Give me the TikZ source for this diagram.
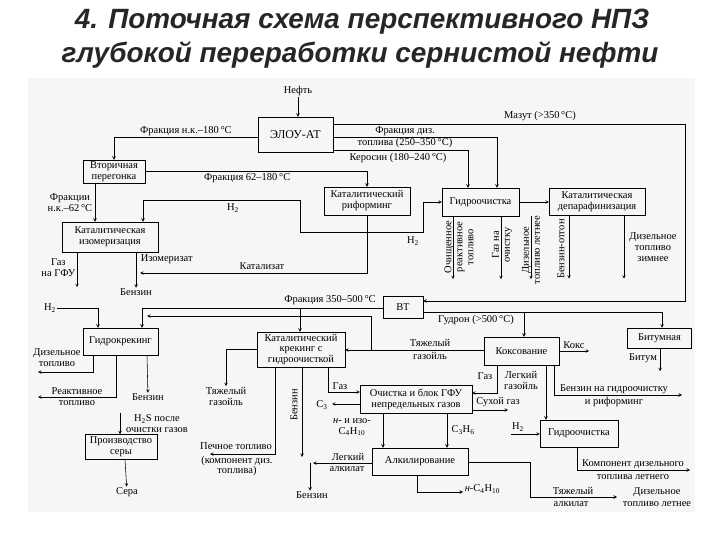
\documentclass[tikz,border=0pt]{standalone}
\usepackage{fontspec}
\setmainfont{Liberation Serif}
\newfontfamily\titlefont{Liberation Sans}
\newcommand\sfont{\fontsize{10.5}{11}\selectfont}

\tikzset{
  unit/.style={draw, inner sep=1pt, align=center, font=\sfont},
  txt/.style={inner sep=0.5pt, align=center, font=\sfont},
  vtxt/.style={txt, rotate=90},
  ttl/.style={font={\titlefont\bfseries\itshape\fontsize{28}{30}\selectfont}, text=black!85},
}

\begin{document}
\begin{tikzpicture}[x=1bp,y=-1bp,>=stealth,line width=0.55pt]
\useasboundingbox (0,0) rectangle (720,540);
\fill[gray!7] (28,78) rectangle (695,512);
% title
\node[ttl] (t1) at (362,22) {4. Поточная схема перспективного НПЗ};
\node[ttl] (t2) at (360,55) {глубокой переработки сернистой нефти};

% units
\node[unit, minimum width=75, minimum height=35, font=\fontsize{12}{13}\selectfont] (elou) at (295.5,134.5) {ЭЛОУ-АТ};
\node[unit, minimum width=62, minimum height=23] (vtor) at (114,171.5) {Вторичная\\перегонка};
\node[unit, minimum width=86, minimum height=28] (reform) at (367,201) {Каталитический\\риформинг};
\node[unit, minimum width=77, minimum height=28] (hydro) at (480.5,202) {Гидроочистка};
\node[unit, minimum width=96, minimum height=27] (dewax) at (597,202) {Каталитическая\\депарафинизация};
\node[unit, minimum width=96, minimum height=30] (isom) at (110,237) {Каталитическая\\изомеризация};
\node[unit, minimum width=40, minimum height=22] (vt) at (403,307) {ВТ};
\node[unit, minimum width=75, minimum height=27] (hcrack) at (120.5,341.5) {Гидрокрекинг};
\node[unit, minimum width=88, minimum height=35] (fcc) at (301,349.5) {Каталитический\\крекинг с\\гидроочисткой};
\node[unit, minimum width=75, minimum height=28] (coking) at (521.5,351) {Коксование};
\node[unit, minimum width=64, minimum height=20] (bitumen) at (659.5,338) {Битумная};
\node[unit, minimum width=112, minimum height=28] (gfu) at (416,399) {Очистка и блок ГФУ\\непредельных газов};
\node[unit, minimum width=72, minimum height=25] (sulfur) at (121,447) {Производство\\серы};
\node[unit, minimum width=96, minimum height=27] (alkyl) at (420,461.5) {Алкилирование};
\node[unit, minimum width=78, minimum height=27] (hydro2) at (579,433.5) {Гидроочистка};

% crude unit
\node[txt] (neft) at (298,91) {Нефть};
\draw[->] (neft) -- (neft |- elou.north);
\draw[->] (elou.west |- 0,137) -| (vtor.north) node[txt,pos=0.25,above=1pt] {Фракция н.к.--180\,°С};
\draw[->] (vtor.east) -| (reform.north) node[txt,pos=0.23,below=1pt] {Фракция 62--180\,°С};
\draw[->] (vtor.south -| 95,0) -- (isom.north -| 95,0);
\node[txt, anchor=east] (f62) at (93,203) {Фракции\\н.к.--62\,°С};
\draw[->] (elou.east |- 0,124) -- (685,124) -- (685,301) -- (vt.east |- 0,301);
\node[txt] (mazut) at (540,116) {Мазут (>350\,°С)};
\draw[->] (elou.east |- 0,137) -| (hydro.north -| 497,0);
\node[txt] (diz1) at (405,131) {Фракция диз.};
\node[txt] (diz2) at (405,143) {топлива (250--350\,°С)};
\draw[->] (elou.east |- 0,150) -| (hydro.north -| 468,0);
\node[txt] (kero) at (398,158) {Керосин (180--240\,°С)};

% reforming: hydrogen and reformate
\draw[->] (reform.south) -- (reform.south |- 0,232) -- (300,232) -- (300,200) -- (143,200) -- (isom.north -| 143,0);
\draw[->] (300,232) -- (423,232) |- (hydro.west);
\node[txt] (h2a) at (233,208) {H\textsubscript{2}};
\node[txt] (h2b) at (413,241) {H\textsubscript{2}};
\draw[->] (reform.south |- 0,232) -- (reform.south |- 0,273) -- (140,273);
\node[txt] (catz) at (262,266) {Катализат};

% isomerization
\node[txt] (benz1) at (136,292) {Бензин};
\draw[->] (isom.south -| 136,0) -- (benz1);
\node[txt, anchor=west] (izm) at (140,259) {Изомеризат};
\draw[->] (isom.south -| 77,0) -- ++(0,35);
\node[txt, anchor=east] (gasgfu) at (76,268) {Газ\\на ГФУ};

% hydrotreating and dewaxing
\draw[->] (hydro.east) -- (dewax.west);
\draw[->] (hydro.south -| 453,0) -- ++(0,63);
\node[vtxt] (jet) at (459,247) {Очищенное\\реактивное\\топливо};
\draw[->] (hydro.south -| 501,0) -- ++(0,63);
\node[vtxt] (gasoch) at (502,245) {Газ на\\очистку};
\draw[->] (hydro.south -| 531,0) -- ++(0,63);
\node[vtxt] (dizlet) at (531,250) {Дизельное\\топливо летнее};
\draw[->] (dewax.south -| 569,0) -- ++(0,63);
\node[vtxt] (otgon) at (561,249) {Бензин-отгон};
\draw[->] (dewax.south -| 624,0) -- ++(0,63);
\node[txt] (dizzim) at (653,247) {Дизельное\\топливо\\зимнее};

% vacuum unit
\draw[->] (vt.west |- 0,308) -- (142,308) -- (hcrack.north -| 142,0);
\node[txt] (f350) at (330,300) {Фракция 350--500\,°С};
\draw[->] (300,308) -- (fcc.north -| 300,0);
\node[txt] (h2c) at (50,308) {H\textsubscript{2}};
\draw[->] (h2c) -| (hcrack.north -| 98,0);
\draw (vt.east |- 0,312) -- (662,312);
\draw[->] (524,312) -- (coking.north -| 524,0);
\draw[->] (662,312) -- (bitumen.north -| 662,0);
\node[txt] (gudron) at (476,320) {Гудрон (>500\,°С)};
\draw[->] (coking.west |- 0,350) -- (fcc.east |- 0,350);
\draw[->] (371,350) -- (371,316) -- (147,316);
\node[txt] (hgo2a) at (430,343) {Тяжелый};
\node[txt] (hgo2b) at (430,356) {газойль};

% hydrocracking
\draw[->] (hcrack.south -| 93,0) |- (38,372);
\node[txt] (dt1) at (57,358) {Дизельное\\топливо};
\draw[->] (hcrack.south -| 116,0) |- (38,397);
\node[txt] (jt1) at (77,391) {Реактивное};
\node[txt] (jt2) at (77,403) {топливо};
\node[txt] (benz2) at (148,397) {Бензин};
\draw[->] (hcrack.south -| 147,0) -- (benz2);

% catalytic cracking
\node[txt] (hgo1) at (226,396) {Тяжелый\\газойль};
\draw[->] (fcc.west) -| (hgo1);
\draw[->] (fcc.south -| 275,0) |- (210,454);
\node[txt] (pech1) at (236,446) {Печное топливо};
\node[txt] (pech2) at (237,466) {(компонент диз.\\топлива)};
\draw[->] (fcc.south -| 302,0) -- (302,457);
\node[vtxt] (benz3) at (294,405) {Бензин};
\draw[->] (fcc.south -| 328,0) |- (gfu.west |- 0,392);
\node[txt] (gas1) at (340,386) {Газ};

% gas plant
\draw[->] (gfu.west |- 0,404) -- (332,404);
\node[txt] (c3) at (322,405) {C\textsubscript{3}};
\draw[->] (gfu.south -| 383,0) -- (alkyl.north -| 383,0);
\node[txt] (c4) at (352,427) {\textit{н}- и изо-\\C\textsubscript{4}H\textsubscript{10}};
\draw[->] (gfu.south -| 447,0) -- (alkyl.north -| 447,0);
\node[txt] (c3h6) at (463,430) {C\textsubscript{3}H\textsubscript{6}};
\draw[->] (gfu.east |- 0,410) -- ++(36,0);
\node[txt] (dry) at (498,402) {Сухой газ};

% coking and bitumen
\draw[->] (coking.east) -- ++(30,0);
\node[txt] (coke) at (574,345) {Кокс};
\draw[->] (coking.south -| 497,0) |- (gfu.east |- 0,393);
\node[txt] (gas2) at (485,376) {Газ};
\draw[->] (coking.south -| 546,0) -- (hydro2.north -| 546,0);
\node[txt] (lgo) at (521,380) {Легкий\\газойль};
\draw[->] (coking.south -| 554,0) |- (682,395);
\node[txt] (bgo1) at (614,389) {Бензин на гидроочистку};
\node[txt] (bgo2) at (614,402) {и риформинг};
\draw[->] (bitumen.south -| 660,0) -- ++(0,23);
\node[txt] (bit) at (643,358) {Битум};

% hydrotreating of light gas oil
\node[txt] (h2d) at (518,427) {H\textsubscript{2}};
\draw[->] (h2d.west |- 0,434) -- (hydro2.west |- 0,434);
\draw[->] (hydro2.south -| 577,0) |- (690,470);
\node[txt] (comp1) at (633,464) {Компонент дизельного};
\node[txt] (comp2) at (633,477) {топлива летнего};

% alkylation
\draw[->] (alkyl.west |- 0,463) -- (313,463);
\node[txt] (la1) at (348,457) {Легкий};
\node[txt] (la2) at (347,469) {алкилат};
\node[txt] (benz4) at (312,495) {Бензин};
\draw[->] (310,463) -- (benz4.north -| 310,0);
\draw[->] (alkyl.south -| 417,0) |- (463,492);
\node[txt, anchor=west] (nc4) at (464,489) {\textit{н}-C\textsubscript{4}H\textsubscript{10}};
\draw[->] (alkyl.east |- 0,462) -- (530,462) |- (617,497);
\node[txt] (ha1) at (573,491) {Тяжелый};
\node[txt] (ha2) at (571,504) {алкилат};
\node[txt] (dl1) at (657,492) {Дизельное};
\node[txt] (dl2) at (657,504) {топливо летнее};

% sulphur
\node[txt] (h2s) at (157,424) {H\textsubscript{2}S после\\очистки газов};
\draw[->] (120,413) -- (sulfur.north -| 120,0);
\node[txt] (sera) at (127,492) {Сера};
\draw[->] (sulfur.south -| 125,0) -- (sera);
\end{tikzpicture}
\end{document}
